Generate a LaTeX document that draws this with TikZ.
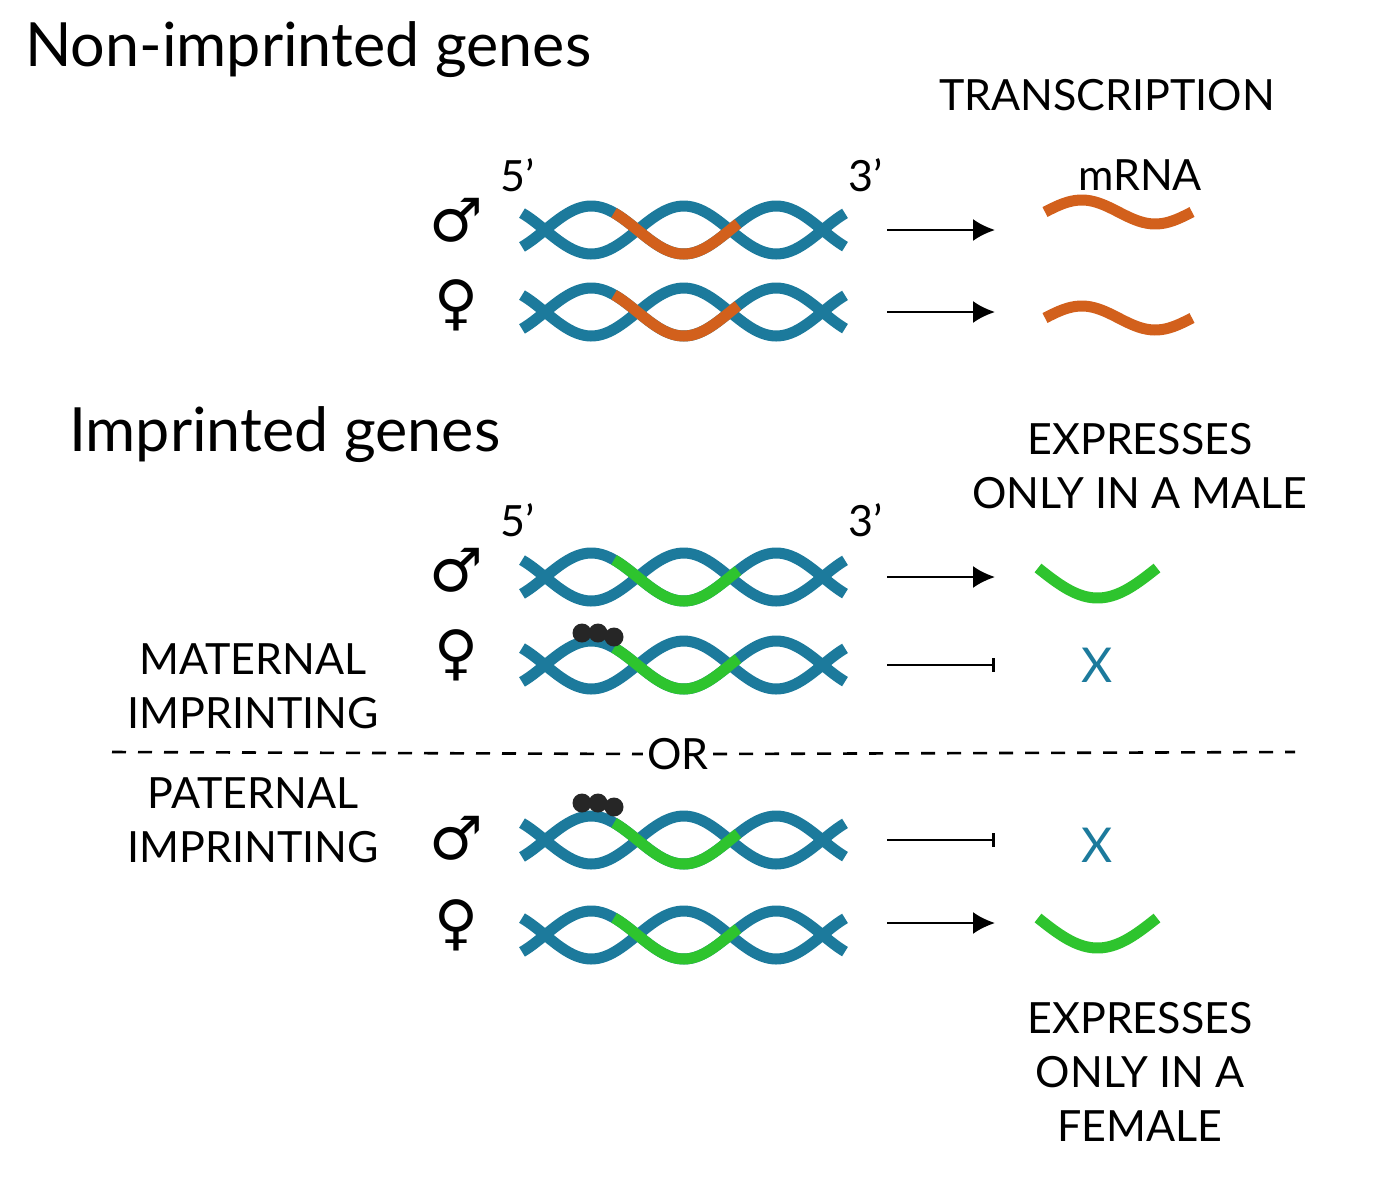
\documentclass[tikz,border=0pt]{standalone}
\usepackage{fontspec}
\setmainfont{Lato}
\newfontfamily\symf{DejaVu Sans}
\definecolor{teal}{HTML}{1C7A9C}
\definecolor{orn}{HTML}{D2601C}
\definecolor{grn}{HTML}{2EC42E}
\newcommand{\dnahelix}[2]{%
 \draw[strand] plot[domain=522:845,samples=90] (\x,{#1-24*sin((\x-545)*1.94595)});
 \draw[strand] plot[domain=522:845,samples=90] (\x,{#1+24*sin((\x-545)*1.94595)});
 \draw[strand,#2] plot[domain=614:738,samples=40] (\x,{#1-24*sin((\x-545)*1.94595)});}
\tikzset{x=0.5pt,y=-0.5pt,
 strand/.style={line width=5.5pt,teal},
 head/.style={font=\fontsize{30.5}{34}\selectfont,anchor=west},
 lab/.style={font=\fontsize{21.5}{27}\selectfont,align=center},
 sym/.style={font=\symf\fontsize{30}{32}\selectfont},
 arr/.style={line width=1.3pt,-{Latex[length=11pt,width=11pt]}},
 blk/.style={line width=1.3pt,-{Bar[width=7pt]}},
 xm/.style={font=\fontsize{24}{26}\selectfont,text=teal},
 dot/.style={circle,fill=black!85,inner sep=0pt,minimum size=9.5pt}}
\usetikzlibrary{arrows.meta}
\begin{document}
\begin{tikzpicture}
\useasboundingbox[fill=white] (0,0) rectangle (1388,1200);
\node[head] (h1) at (18,50) {Non-imprinted genes};
\node[head] (h2) at (62,435) {Imprinted genes};
\node[lab] (tr) at (1107,95) {TRANSCRIPTION};
\node[lab] (mr) at (1140,175) {mRNA};
\node[lab] (f1) at (518,175) {5'};
\node[lab] (t1) at (866,175) {3'};
\node[lab] (f2) at (518,520) {5'};
\node[lab] (t2) at (866,520) {3'};
\node[lab] (em) at (1140,466) {EXPRESSES\\ONLY IN A MALE};
\node[lab] (ef) at (1140,1072) {EXPRESSES\\ONLY IN A\\FEMALE};
\node[lab] (mi) at (253,686) {MATERNAL\\IMPRINTING};
\node[lab] (pi) at (253,820) {PATERNAL\\IMPRINTING};
\node[lab,fill=white,inner sep=2pt] (or) at (678,754) {OR};
\draw[line width=1.3pt,dash pattern=on 7pt off 6pt] (112,752) -- (or.west);
\draw[line width=1.3pt,dash pattern=on 7pt off 6pt] (or.east) -- (1295,752);
\foreach \n/\y/\s in {m1/220/♂,f1s/305/♀,m2/570/♂,f2s/655/♀,m3/838/♂,f3s/925/♀}
  \node[sym] (\n) at (456,\y) {\s};
\dnahelix{230}{orn}
\dnahelix{312}{orn}
\dnahelix{577}{grn}
\dnahelix{665}{grn}
\dnahelix{840}{grn}
\dnahelix{935}{grn}
\foreach \n/\x/\y in {d1/582/633,d2/598/633,d3/614/637,d4/582/803,d5/598/803,d6/614/807}
  \node[dot] (\n) at (\x,\y) {};
\foreach \i/\y in {1/230,2/312,3/577,4/665,5/840,6/923}{
  \coordinate (a\i) at (887,\y); \coordinate (b\i) at (995,\y);}
\draw[arr] (a1) -- (b1); \draw[arr] (a2) -- (b2); \draw[arr] (a3) -- (b3);
\draw[blk] (a4) -- (b4); \draw[blk] (a5) -- (b5); \draw[arr] (a6) -- (b6);
\draw[line width=5.5pt,orn] plot[domain=1045:1192,samples=40] (\x,{212-12*sin(2.449*(\x-1045))});
\draw[line width=5.5pt,orn] plot[domain=1045:1192,samples=40] (\x,{318-12*sin(2.449*(\x-1045))});
\draw[line width=5.5pt,grn] plot[domain=1038:1157,samples=40] (\x,{568+30*sin(1.5126*(\x-1038))});
\draw[line width=5.5pt,grn] plot[domain=1038:1157,samples=40] (\x,{918+30*sin(1.5126*(\x-1038))});
\node[xm] (x1) at (1097,665) {X};
\node[xm] (x2) at (1097,845) {X};
\end{tikzpicture}
\end{document}
